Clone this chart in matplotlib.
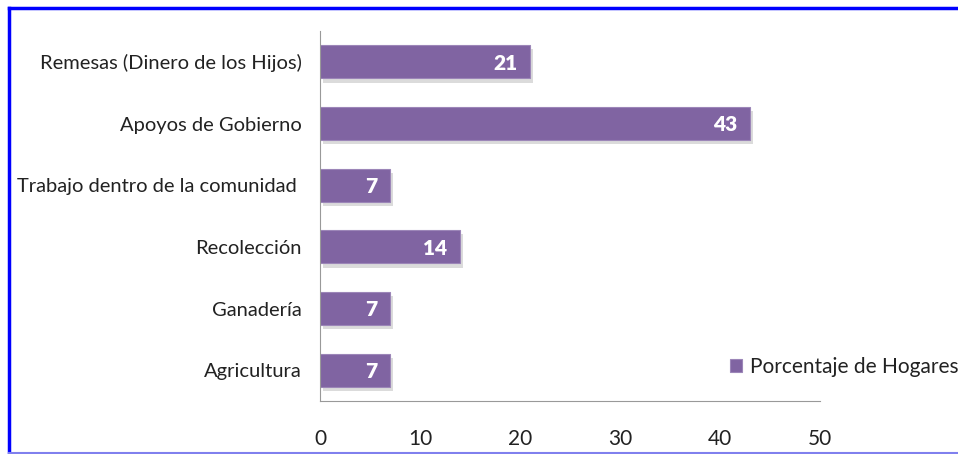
import matplotlib
matplotlib.use("Agg")
import matplotlib.pyplot as plt
import matplotlib.patheffects as pe
from matplotlib.lines import Line2D

categorias = ["Agricultura", "Ganadería", "Recolección",
              "Trabajo dentro de la comunidad ", "Apoyos de Gobierno",
              "Remesas (Dinero de los Hijos)"]
porcentajes = [7, 7, 14, 7, 43, 21]
serie = "Porcentaje de Hogares"
ticks_x = [0, 10, 20, 30, 40, 50]

plt.rcParams['font.family'] = ['Lato', 'DejaVu Sans']

fig = plt.figure(figsize=(9.58, 4.54), dpi=100)
ax = fig.add_axes([320 / 958, 53 / 454, 500 / 958, 370 / 454])

y = range(len(categorias))
bars = ax.barh(y, porcentajes, height=0.54, color='#8064A2',
               edgecolor='#9c86b8', linewidth=0.8, label=serie)
for b in bars:
    b.set_path_effects([pe.SimplePatchShadow(offset=(2, -3), alpha=0.3, shadow_rgbFace='#888888'),
                        pe.Normal()])

for i, v in enumerate(porcentajes):
    ax.text(v - 1.3, i - 0.02, str(v), ha='right', va='center', color='white',
            fontsize=15, fontweight='heavy')

ax.set_xlim(0, 50)
ax.set_ylim(-0.5, len(categorias) - 0.5)
ax.set_xticks(ticks_x)
ax.set_xticklabels([str(t) for t in ticks_x], fontsize=15, color='#222222')
ax.set_yticks(list(y))
ax.set_yticklabels(categorias, fontsize=14.5, color='#222222')
ax.tick_params(axis='both', length=0)
ax.tick_params(axis='x', pad=20)
ax.tick_params(axis='y', pad=13)
for s in ['top', 'right']:
    ax.spines[s].set_visible(False)
ax.spines['left'].set_color('#999999')
ax.spines['bottom'].set_color('#999999')
ax.spines['left'].set_bounds(-0.5, 5.5)

leg = ax.legend(loc='lower right', bbox_to_anchor=(1.315, 0.015), frameon=False,
                fontsize=15, handlelength=0.55, handleheight=0.55, handletextpad=0.4,
                labelcolor='#222222')
for h in leg.get_patches():
    h.set_path_effects([])

# marco azul
fig.add_artist(Line2D([8.5 / 958, 1.0], [1 - 8 / 454, 1 - 8 / 454], color='#0000ff', lw=2.5, transform=fig.transFigure))
fig.add_artist(Line2D([8.5 / 958, 8.5 / 958], [1 - 8 / 454, 1.5 / 454], color='#0000ff', lw=2.5, transform=fig.transFigure))
fig.add_artist(Line2D([8.5 / 958, 1.0], [1.5 / 454, 1.5 / 454], color='#8080ee', lw=1.5, transform=fig.transFigure))

fig.savefig("out.png", dpi=100)
